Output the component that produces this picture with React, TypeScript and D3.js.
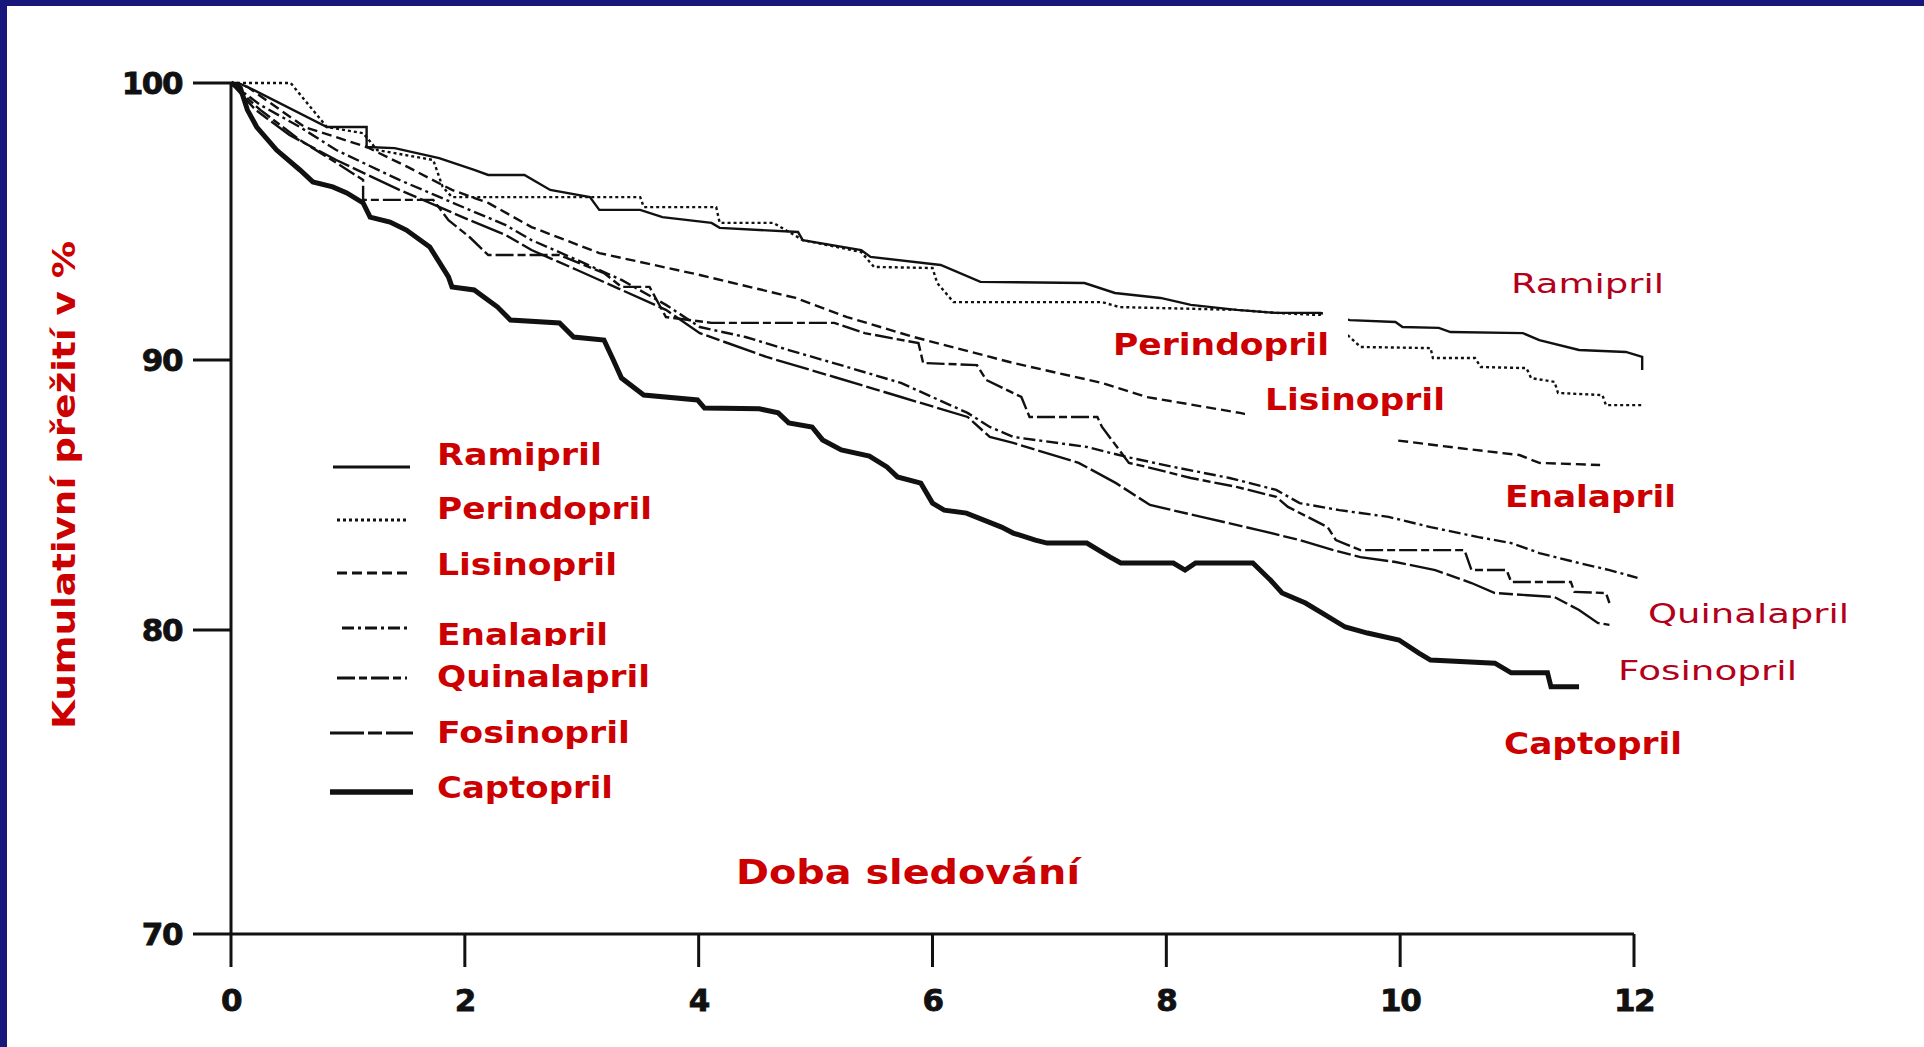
import React from 'react';
import * as d3 from 'd3';

type Pt = [number, number];

// Kaplan-Meier estimates (years of follow-up, cumulative survival in %)
const ramipril: Pt[] = [
  [0, 100], [0.06, 100], [0.16, 99.82], [0.82, 98.41], [1.16, 98.41], [1.16, 97.69], [1.4, 97.65],
  [1.78, 97.29], [2.08, 96.86], [2.2, 96.68], [2.51, 96.68], [2.73, 96.14], [3.07, 95.88], [3.15, 95.42],
  [3.5, 95.42], [3.69, 95.16], [4.11, 94.95], [4.18, 94.77], [4.85, 94.62], [4.89, 94.33], [5.39, 93.97],
  [5.47, 93.72], [6.07, 93.43], [6.41, 92.82], [7.3, 92.78], [7.56, 92.42], [7.95, 92.24], [8.21, 91.99],
  [8.6, 91.81], [8.94, 91.7], [9.32, 91.7], [9.57, 91.44], [9.96, 91.37], [10.02, 91.19], [10.33, 91.16],
  [10.43, 91.01], [11.05, 90.97], [11.19, 90.72], [11.53, 90.36], [11.93, 90.29], [12.07, 90.11], [12.07, 89.63],
];

const perindopril: Pt[] = [
  [0, 100], [0.51, 100], [0.82, 98.41], [1.13, 98.19], [1.25, 97.58], [1.73, 97.22], [1.81, 96.25],
  [1.89, 95.88], [3.5, 95.88], [3.53, 95.52], [4.15, 95.52], [4.18, 94.95], [4.64, 94.95], [4.89, 94.33],
  [5.39, 93.9], [5.5, 93.36], [6.0, 93.32], [6.04, 92.78], [6.18, 92.09], [7.45, 92.09], [7.6, 91.91],
  [8.6, 91.81], [8.94, 91.7], [9.32, 91.62], [9.57, 90.83], [9.66, 90.47], [10.26, 90.43], [10.28, 90.07],
  [10.64, 90.07], [10.69, 89.74], [11.08, 89.7], [11.12, 89.33], [11.32, 89.19], [11.35, 88.78],
  [11.73, 88.7], [11.76, 88.33], [12.07, 88.33],
];

const lisinopril: Pt[] = [
  [0, 100], [0.14, 99.86], [0.63, 98.41], [1.16, 97.69], [1.51, 96.97], [1.89, 96.14], [2.2, 95.67],
  [2.57, 94.8], [3.15, 93.86], [4.01, 93.07], [4.83, 92.24], [5.27, 91.55], [5.84, 90.83], [6.69, 89.89],
  [7.45, 89.15], [7.83, 88.63], [8.63, 88.04], [9.14, 87.59], [9.57, 87.33], [9.93, 87.04], [10.09, 86.96],
  [10.5, 86.74], [11.02, 86.48], [11.19, 86.19], [11.71, 86.11],
];

const enalapril: Pt[] = [
  [0, 100], [0.25, 99.21], [0.59, 98.41], [0.9, 97.58], [1.44, 96.5], [1.74, 95.96], [2.04, 95.42],
  [2.35, 94.87], [2.57, 94.33], [2.96, 93.61], [3.34, 92.89], [3.72, 91.99], [4.01, 91.19], [4.4, 90.83],
  [4.77, 90.36], [5.27, 89.74], [5.73, 89.15], [6.3, 88.04], [6.49, 87.52], [6.69, 87.15], [7.32, 86.78],
  [7.66, 86.41], [8.06, 86.04], [8.54, 85.63], [8.94, 85.19], [9.14, 84.7], [9.48, 84.44], [9.9, 84.19],
  [10.26, 83.81], [10.67, 83.44], [10.95, 83.22], [11.19, 82.85], [11.53, 82.48], [11.79, 82.22], [12.03, 81.93],
];

const quinalapril: Pt[] = [
  [0, 100], [0.25, 99.03], [0.59, 97.94], [0.93, 97.04], [1.13, 96.5], [1.13, 95.78], [1.73, 95.78],
  [1.86, 95.05], [2.04, 94.44], [2.2, 93.79], [2.81, 93.79], [3.19, 93.14], [3.34, 92.64], [3.58, 92.64],
  [3.72, 91.55], [4.11, 91.34], [5.16, 91.34], [5.42, 90.97], [5.88, 90.61], [5.92, 89.89], [6.38, 89.81],
  [6.46, 89.26], [6.76, 88.63], [6.83, 87.89], [7.41, 87.89], [7.45, 87.52], [7.68, 86.19], [7.83, 86.04],
  [8.21, 85.63], [8.6, 85.3], [8.94, 84.93], [9.04, 84.56], [9.38, 83.81], [9.45, 83.33], [9.66, 82.96],
  [10.55, 82.96], [10.61, 82.22], [10.91, 82.22], [10.95, 81.78], [11.46, 81.78], [11.49, 81.41],
  [11.76, 81.37], [11.79, 81.0],
];

const fosinopril: Pt[] = [
  [0, 100], [0.21, 99.03], [0.5, 98.12], [0.9, 97.22], [1.44, 96.14], [1.74, 95.6], [2.04, 95.05],
  [2.35, 94.51], [2.57, 93.97], [2.96, 93.25], [3.34, 92.53], [3.72, 91.81], [4.01, 90.97], [4.58, 90.11],
  [5.16, 89.37], [5.73, 88.63], [6.3, 87.89], [6.49, 87.15], [6.69, 86.93], [7.25, 86.19], [7.57, 85.44],
  [7.86, 84.63], [8.3, 84.19], [8.79, 83.7], [9.14, 83.33], [9.43, 82.96], [9.66, 82.7], [9.96, 82.52],
  [10.3, 82.22], [10.61, 81.74], [10.81, 81.37], [11.32, 81.22], [11.53, 80.74], [11.69, 80.26], [11.79, 80.19],
];

const captopril: Pt[] = [
  [0, 100], [0.08, 99.82], [0.14, 99.03], [0.22, 98.41], [0.39, 97.58], [0.59, 96.86], [0.7, 96.43],
  [0.87, 96.25], [0.99, 96.03], [1.13, 95.67], [1.19, 95.16], [1.36, 94.98], [1.5, 94.69], [1.7, 94.08],
  [1.86, 93.0], [1.89, 92.64], [2.08, 92.53], [2.28, 91.91], [2.39, 91.44], [2.81, 91.34], [2.93, 90.83],
  [3.19, 90.72], [3.27, 90.0], [3.34, 89.33], [3.53, 88.7], [3.99, 88.52], [4.05, 88.22], [4.52, 88.19],
  [4.68, 88.04], [4.77, 87.67], [4.97, 87.52], [5.06, 87.04], [5.22, 86.67], [5.46, 86.44], [5.61, 86.04],
  [5.7, 85.67], [5.9, 85.44], [6.0, 84.7], [6.1, 84.44], [6.29, 84.33], [6.59, 83.81], [6.69, 83.59],
  [6.88, 83.33], [6.98, 83.22], [7.32, 83.22], [7.52, 82.7], [7.61, 82.48], [8.06, 82.48], [8.16, 82.22],
  [8.25, 82.48], [8.74, 82.48], [8.89, 81.85], [8.99, 81.37], [9.19, 81.0], [9.33, 80.63], [9.53, 80.11],
  [9.72, 79.9], [9.99, 79.67], [10.16, 79.24], [10.26, 79.01], [10.81, 78.91], [10.95, 78.59],
  [11.26, 78.59], [11.29, 78.13], [11.53, 78.13],
];

const drugNames = ['Ramipril', 'Perindopril', 'Lisinopril', 'Enalapril', 'Quinalapril', 'Fosinopril', 'Captopril'];
const drugData = [ramipril, perindopril, lisinopril, enalapril, quinalapril, fosinopril, captopril];

const xTicks = [0, 2, 4, 6, 8, 10, 12];
const yTicks = [70, 80, 90, 100];

const yTitle = 'Kumulativní přežití v %';
const xTitle = 'Doba sledování';

// line styling for each drug, in the order of drugNames
const lineStyles = [
  { dash: undefined, width: 2.4 },
  { dash: '3,3', width: 2.4 },
  { dash: '10,5', width: 2.4 },
  { dash: '12,4,3,4', width: 2.4 },
  { dash: '18,4,8,4', width: 2.4 },
  { dash: '34,4,14,4', width: 2.4 },
  { dash: undefined, width: 5 },
];

// legend rows: sample line and label baseline
const legendRows = [
  { x1: 333, x2: 410, ly: 467, ty: 465, tw: 165 },
  { x1: 337, x2: 407, ly: 520, ty: 519, tw: 215 },
  { x1: 337, x2: 407, ly: 573, ty: 575, tw: 180 },
  { x1: 342, x2: 407, ly: 628, ty: 645, tw: 171 },
  { x1: 337, x2: 407, ly: 678, ty: 687, tw: 213 },
  { x1: 330, x2: 413, ly: 733, ty: 743, tw: 193 },
  { x1: 330, x2: 413, ly: 792, ty: 798, tw: 176 },
];

// end-of-curve labels
const endLabels = [
  { i: 0, x: 1511, y: 293, w: 153, bold: false },
  { i: 1, x: 1113, y: 355, w: 216, bold: true },
  { i: 2, x: 1265, y: 410, w: 180, bold: true },
  { i: 3, x: 1505, y: 507, w: 171, bold: true },
  { i: 4, x: 1648, y: 623, w: 201, bold: false },
  { i: 5, x: 1618, y: 680, w: 179, bold: false },
  { i: 6, x: 1504, y: 754, w: 178, bold: true },
];

// white boxes behind two of the end labels
const labelBoxes = [
  { x: 1105, y: 316, w: 243, h: 54 },
  { x: 1323, y: 300, w: 25, h: 40 },
  { x: 1245, y: 380, w: 152, h: 64 },
];

const W = 1924;
const H = 1047;
const FONT = "'DejaVu Sans', Verdana, sans-serif";
const RED = '#cc0000';
const RED_THIN = '#b3001b';
const NAVY = '#18177c';
const INK = '#111';

export default function App() {
  const x = d3.scaleLinear().domain([0, 12]).range([231, 1634]);
  const y = d3.scaleLinear().domain([70, 80, 90, 100]).range([934, 630, 360, 83]);
  const line = d3
    .line<Pt>()
    .x((d) => x(d[0]))
    .y((d) => y(d[1]))
    .curve(d3.curveLinear);

  const x0 = x(0);
  const yBase = y(70);

  return (
    <svg
      width={W}
      height={H}
      viewBox={`0 0 ${W} ${H}`}
      style={{ position: 'absolute', left: 0, top: 0, display: 'block', background: '#fff' }}
    >
      <defs>
        <clipPath id="legend-clip-enalapril">
          <rect x={420} y={600} width={260} height={46} />
        </clipPath>
      </defs>
      <rect x={0} y={0} width={W} height={H} fill="#fff" />

      {/* survival curves */}
      <g fill="none" stroke={INK} strokeLinejoin="miter">
        {drugData.map((d, i) => (
          <path
            key={drugNames[i]}
            d={line(d) || ''}
            strokeWidth={lineStyles[i].width}
            strokeDasharray={lineStyles[i].dash}
          />
        ))}
      </g>

      {/* label backgrounds */}
      {labelBoxes.map((b, i) => (
        <rect key={i} x={b.x} y={b.y} width={b.w} height={b.h} fill="#fff" />
      ))}

      {/* axes */}
      <g stroke={INK} strokeWidth={3} fill="none">
        <line x1={x0} y1={y(100)} x2={x0} y2={yBase} />
        <line x1={x0} y1={yBase} x2={x(12)} y2={yBase} />
        {yTicks.map((t) => (
          <line key={t} x1={x0 - 38} y1={y(t)} x2={x0} y2={y(t)} />
        ))}
        {xTicks.map((t) => (
          <line key={t} x1={x(t)} y1={yBase} x2={x(t)} y2={yBase + 33} />
        ))}
      </g>
      <g fontFamily={FONT} fontWeight="bold" fontSize={31} fill={INK} stroke={INK} strokeWidth={0.8}>
        {yTicks.map((t) => (
          <text key={t} x={x0 - 49} y={y(t)} textAnchor="end" dominantBaseline="central" letterSpacing={-1.5}>
            {t}
          </text>
        ))}
        {xTicks.map((t) => (
          <text key={t} x={x(t)} y={yBase + 66} textAnchor="middle" dominantBaseline="central" letterSpacing={-1.5}>
            {t}
          </text>
        ))}
      </g>

      {/* axis titles */}
      <text
        transform="translate(75,485) rotate(-90)"
        textAnchor="middle"
        fontFamily={FONT}
        fontWeight="bold"
        fontSize={32}
        fill={RED}
        textLength={488}
        lengthAdjust="spacingAndGlyphs"
      >
        {yTitle}
      </text>
      <text
        x={736}
        y={884}
        fontFamily={FONT}
        fontWeight="bold"
        fontSize={34}
        fill={RED}
        textLength={344}
        lengthAdjust="spacingAndGlyphs"
      >
        {xTitle}
      </text>

      {/* legend */}
      {legendRows.map((r, i) => (
        <g key={drugNames[i]}>
          <line
            x1={r.x1}
            x2={r.x2}
            y1={r.ly}
            y2={r.ly}
            stroke={INK}
            strokeWidth={lineStyles[i].width + 0.6}
            strokeDasharray={lineStyles[i].dash}
          />
          <text
            x={437}
            y={r.ty}
            fontFamily={FONT}
            fontWeight="bold"
            fontSize={31}
            fill={RED}
            textLength={r.tw}
            lengthAdjust="spacingAndGlyphs"
            clipPath={i === 3 ? 'url(#legend-clip-enalapril)' : undefined}
          >
            {drugNames[i]}
          </text>
        </g>
      ))}

      {/* curve labels */}
      {endLabels.map((l) => (
        <text
          key={l.i}
          x={l.x}
          y={l.y}
          fontFamily={FONT}
          fontWeight={l.bold ? 'bold' : 'normal'}
          fontSize={l.bold ? 31 : 27}
          fill={l.bold ? RED : RED_THIN}
          textLength={l.w}
          lengthAdjust="spacingAndGlyphs"
        >
          {drugNames[l.i]}
        </text>
      ))}

      {/* frame */}
      <rect x={0} y={0} width={W} height={6} fill={NAVY} />
      <rect x={0} y={0} width={7} height={H} fill={NAVY} />
    </svg>
  );
}
